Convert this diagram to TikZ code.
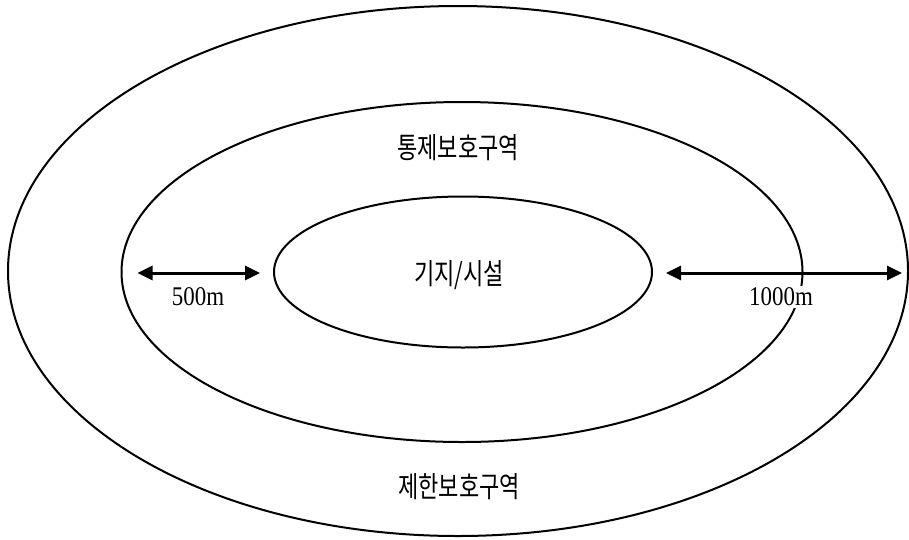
\documentclass[tikz,border=0pt]{standalone}
\usepackage{fontspec}
\setmainfont{Liberation Serif}
\newfontfamily\lat[FakeStretch=0.85]{Liberation Serif}
\newfontfamily\kr[FakeStretch=0.76]{Noto Sans CJK KR}
\usetikzlibrary{shapes.geometric,arrows.meta,calc}
\tikzset{
  zone/.style={draw=black, line width=2pt, ellipse, inner sep=0pt},
  dim/.style={line width=3pt, {Triangle[length=15pt,width=14pt]}-{Triangle[length=15pt,width=14pt]}},
  krlbl/.style={font=\kr\fontsize{29pt}{32pt}\selectfont, inner sep=0pt},
  numlbl/.style={font=\lat\fontsize{27pt}{30pt}\selectfont, inner sep=2pt}
}
\begin{document}
\begin{tikzpicture}[x=1pt,y=-1pt]
\useasboundingbox (0,0) rectangle (909,539);
\node[zone, minimum width=900pt, minimum height=530pt] (outer) at (458,271) {};
\node[zone, minimum width=681pt, minimum height=340pt] (mid) at (462,272) {};
\node[zone, minimum width=378pt, minimum height=151pt] (inner) at (463,272) {};
\coordinate (la) at ($(mid.west)+(17,1)$);
\coordinate (lb) at ($(inner.west)+(-13,1)$);
\coordinate (ra) at ($(inner.east)+(13,1)$);
\coordinate (rb) at ($(outer.east)+(-7,2)$);
\node[numlbl, fill=white] (l1000) at (781,297) {1000m};
\node[numlbl] (l500) at (198,297) {500m};
\draw[dim] (la) -- (lb);
\draw[dim] (ra) -- (rb);
\node[krlbl] (t1) at (458,148) {통제보호구역};
\node[krlbl] (t2) at (459,275) {기지/시설};
\node[krlbl] (t3) at (459,487) {제한보호구역};
\end{tikzpicture}
\end{document}
